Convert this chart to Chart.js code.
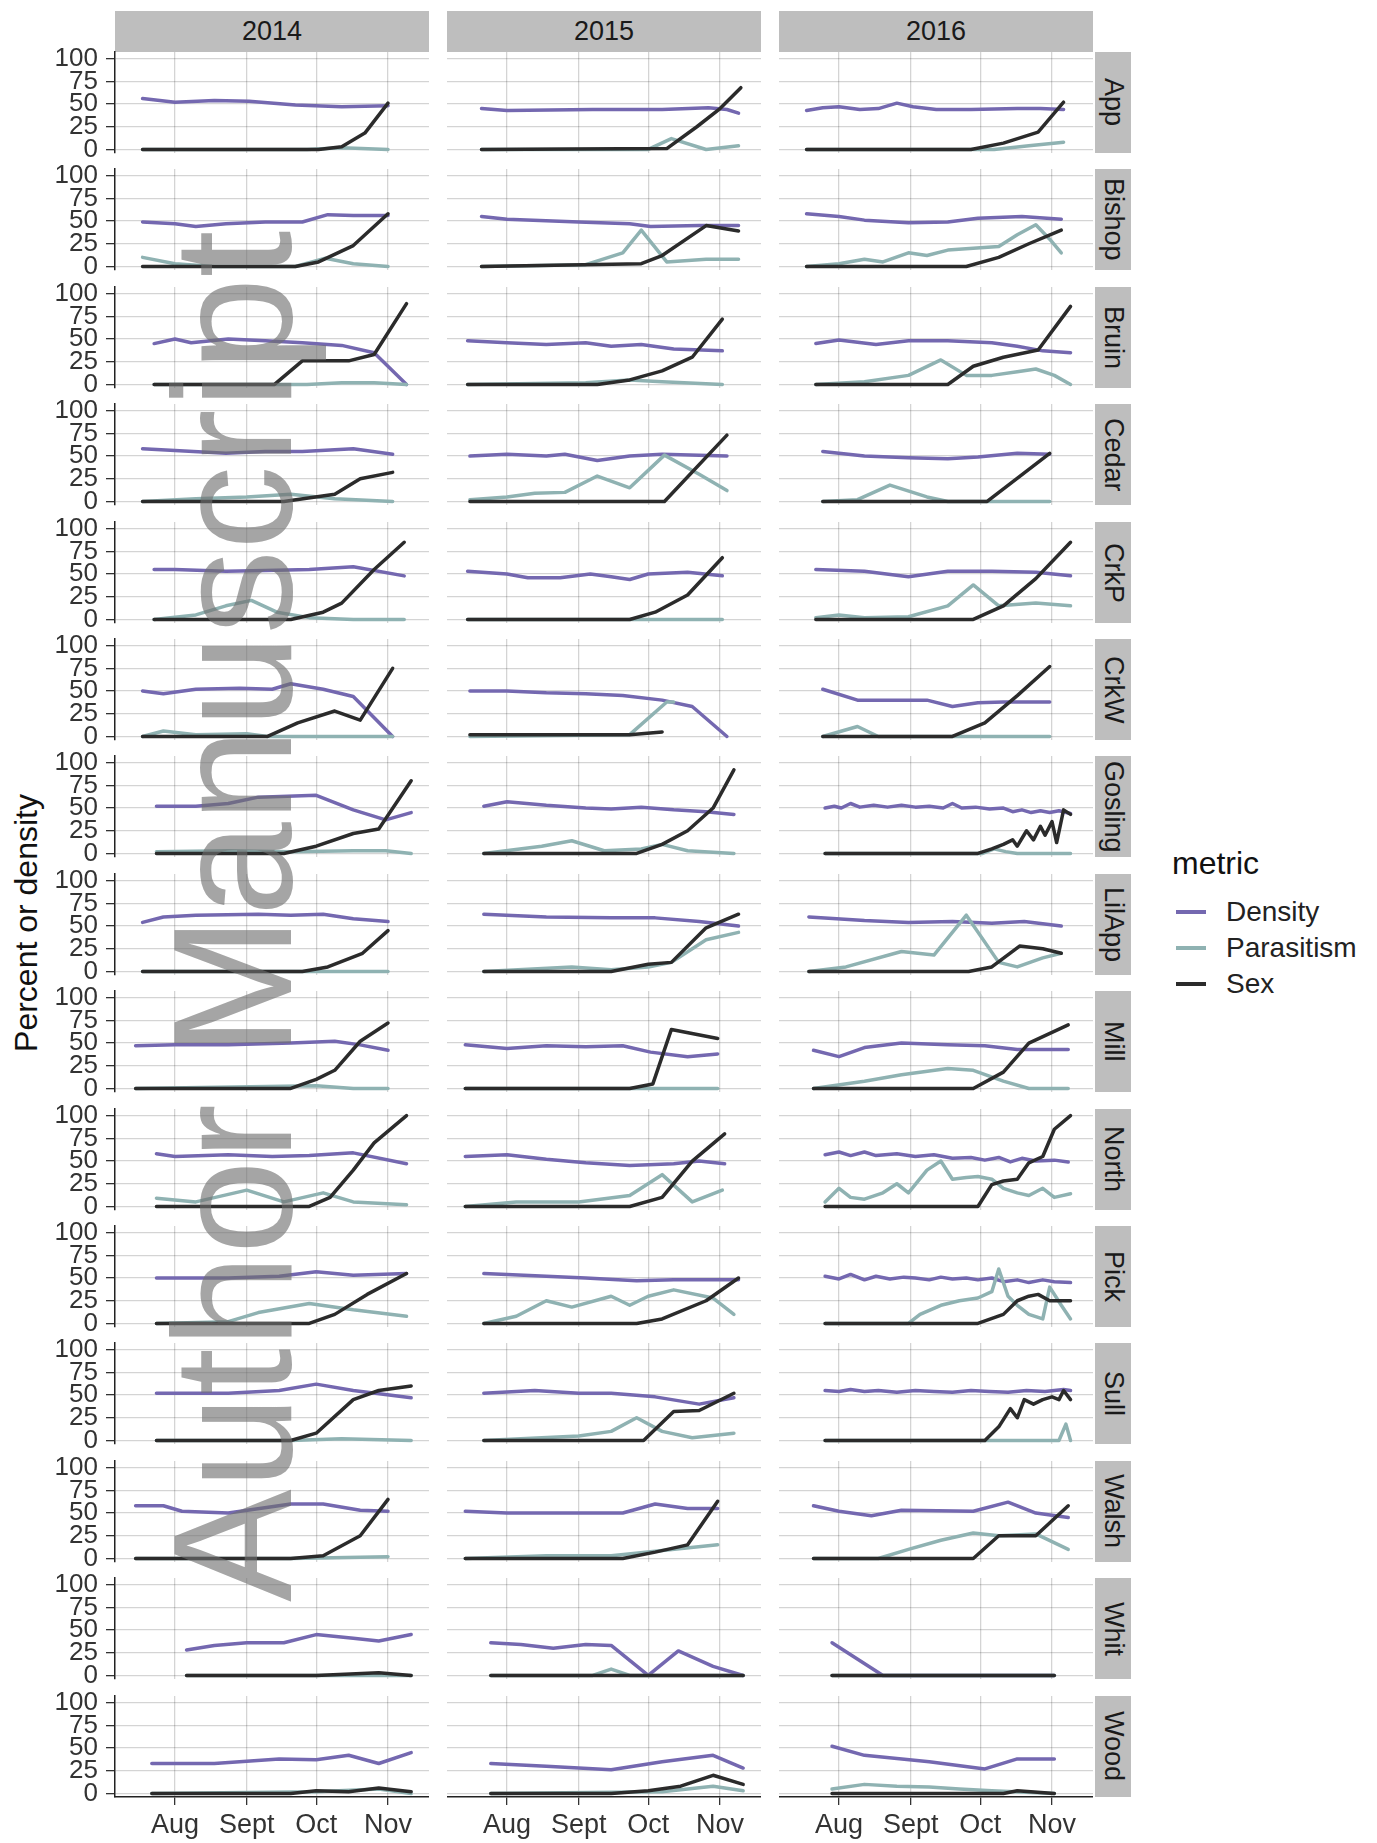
<!DOCTYPE html>
<html>
<head>
<meta charset="utf-8">
<script src="https://cdn.jsdelivr.net/npm/chart.js@4.4.1/dist/chart.umd.min.js"></script>
<style>
  body { margin: 0; background: #fff; font-family: "Liberation Sans", Arial, sans-serif; }
  #page { position: relative; width: 1377px; height: 1843px; overflow: hidden; background: #fff; }
  #page canvas { position: absolute; }
  .strip-top, .strip-right {
    position: absolute; background: #bebebe; color: #1a1a1a; font-size: 27px;
    display: flex; align-items: center; justify-content: center; white-space: nowrap;
  }
  .strip-right { writing-mode: vertical-rl; }
  .ytitle {
    position: absolute; left: 26px; top: 923px; font-size: 32px; color: #111; white-space: nowrap;
    transform: translate(-50%, -50%) rotate(-90deg);
  }
  .legend-title { position: absolute; left: 1172px; top: 845px; font-size: 32px; color: #111; }
  .legend-item { position: absolute; left: 1176px; font-size: 28px; color: #222; display: flex; align-items: center; }
  .legend-item span.key { display: inline-block; width: 30px; height: 3.5px; margin-right: 20px; }
  .watermark {
    position: absolute; left: 148px; top: 1602px; font-size: 169px; line-height: 1; white-space: nowrap;
    color: rgba(110, 110, 110, 0.62); transform-origin: 0 0; transform: rotate(-90deg); pointer-events: none;
  }
</style>
</head>
<body>
<div id="page">
  <div class="ytitle">Percent or density</div>
  <div class="legend-title">metric</div>
</div>
<script>
const years = ["2014", "2015", "2016"];
const sites = ["App", "Bishop", "Bruin", "Cedar", "CrkP", "CrkW", "Gosling", "LilApp",
               "Mill", "North", "Pick", "Sull", "Walsh", "Whit", "Wood"];
const metrics = ["Density", "Parasitism", "Sex"];
const metricColors = ["#7468b0", "#8fb2b2", "#2b2b2b"];
const yTicks = [0, 25, 50, 75, 100];
// day of year for the first of each month
const monthDays = [213, 244, 274, 305];
const monthLabels = ["Aug", "Sept", "Oct", "Nov"];

// one entry per year (2014, 2015, 2016), each holding Density, Parasitism, Sex
// as [day of year, value] pairs
const App = [
  [[[199,56],[213,52],[230,54],[245,53],[265,49],[285,47],[305,48]],
   [[199,0],[270,0],[285,2],[305,0]],
   [[199,0],[275,0],[285,3],[295,18],[305,51]]],
  [[[202,45],[213,43],[250,44],[280,44],[300,46],[308,44],[313,40]],
   [[202,0],[274,0],[284,12],[299,0],[313,4]],
   [[202,0],[282,1],[295,25],[305,45],[314,68]]],
  [[[199,43],[206,46],[213,47],[222,44],[230,45],[238,51],[245,47],[255,44],[270,44],[290,45],[300,45],[310,44]],
   [[199,0],[280,0],[295,4],[310,8]],
   [[199,0],[270,0],[284,7],[299,19],[310,52]]],
];
const Bishop = [
  [[[199,49],[213,47],[222,44],[235,47],[252,49],[268,49],[279,57],[290,56],[305,56]],
   [[199,10],[213,3],[230,0],[265,0],[278,9],[290,3],[305,0]],
   [[199,0],[265,0],[275,5],[290,23],[305,58]]],
  [[[202,55],[213,52],[244,49],[266,47],[275,44],[296,45],[313,45]],
   [[202,0],[247,2],[263,15],[271,40],[282,5],[299,8],[313,8]],
   [[202,0],[271,3],[280,12],[299,45],[313,39]]],
  [[[199,58],[213,55],[224,51],[243,48],[260,49],[273,53],[292,55],[309,52]],
   [[199,0],[213,3],[224,8],[232,5],[243,15],[251,12],[260,18],[271,20],[282,22],[290,35],[298,46],[304,30],[309,15]],
   [[199,0],[268,0],[282,10],[295,25],[309,40]]],
];
const Bruin = [
  [[[204,45],[213,50],[220,46],[236,50],[252,48],[268,46],[285,43],[299,35],[313,0]],
   [[204,0],[270,0],[285,2],[299,2],[313,0]],
   [[204,0],[256,0],[268,26],[288,26],[299,33],[313,89]]],
  [[[196,48],[213,46],[230,44],[247,46],[258,42],[271,44],[285,39],[306,37]],
   [[196,0],[247,2],[266,5],[280,3],[306,0]],
   [[196,0],[252,0],[266,5],[280,15],[293,30],[306,72]]],
  [[[203,45],[213,49],[229,44],[243,48],[260,48],[279,46],[290,42],[301,37],[313,35]],
   [[203,0],[224,3],[243,10],[257,27],[268,10],[279,10],[290,14],[298,17],[306,10],[313,0]],
   [[203,0],[260,0],[271,20],[284,30],[299,38],[313,86]]],
];
const Cedar = [
  [[[199,58],[213,56],[235,53],[252,55],[268,55],[290,58],[307,52]],
   [[199,0],[222,3],[244,5],[263,8],[282,3],[307,0]],
   [[199,0],[260,0],[282,8],[293,25],[307,32]]],
  [[[197,50],[213,52],[230,50],[238,52],[252,45],[266,50],[280,52],[308,50]],
   [[197,2],[213,5],[225,9],[238,10],[252,28],[266,15],[281,51],[296,30],[308,12]],
   [[197,0],[281,0],[308,73]]],
  [[[206,55],[224,50],[243,48],[260,47],[273,49],[290,53],[304,52]],
   [[206,0],[221,2],[235,18],[251,5],[260,0],[304,0]],
   [[206,0],[277,0],[304,53]]],
];
const CrkP = [
  [[[204,55],[213,55],[235,53],[252,54],[271,55],[290,58],[312,48]],
   [[204,0],[222,5],[235,15],[246,21],[257,8],[271,2],[290,0],[312,0]],
   [[204,0],[263,0],[277,8],[285,18],[299,55],[312,85]]],
  [[[196,53],[213,50],[222,46],[236,46],[249,50],[258,47],[266,44],[274,50],[291,52],[306,48]],
   [[196,0],[306,0]],
   [[196,0],[266,0],[277,8],[291,27],[306,68]]],
  [[[203,55],[224,53],[243,47],[260,53],[279,53],[298,52],[313,48]],
   [[203,2],[213,5],[224,2],[243,3],[260,15],[271,38],[282,15],[298,18],[313,15]],
   [[203,0],[271,0],[284,15],[298,45],[313,85]]],
];
const CrkW = [
  [[[199,50],[208,47],[222,52],[241,53],[255,52],[263,58],[277,52],[290,44],[307,0]],
   [[199,0],[208,6],[222,2],[244,3],[253,0],[307,0]],
   [[199,0],[253,0],[266,15],[282,28],[293,18],[307,75]]],
  [[[197,50],[213,50],[230,48],[247,47],[263,45],[280,40],[293,33],[308,0]],
   [[197,0],[266,2],[282,38],[285,38]],
   [[197,2],[266,2],[280,5]]],
  [[[206,52],[221,40],[243,40],[251,40],[262,33],[273,37],[284,38],[304,38]],
   [[206,0],[221,11],[230,0],[304,0]],
   [[206,0],[262,0],[276,15],[290,45],[304,77]]],
];
const Gosling = [
  [[[205,52],[222,52],[236,55],[249,62],[274,64],[290,48],[304,37],[315,45]],
   [[205,2],[236,3],[263,2],[290,3],[304,3],[315,0]],
   [[205,0],[260,0],[274,8],[290,22],[301,27],[315,80]]],
  [[[203,52],[213,57],[230,53],[247,50],[258,49],[271,51],[285,48],[299,46],[311,43]],
   [[203,0],[228,8],[241,14],[255,3],[271,5],[280,10],[291,3],[311,0]],
   [[203,0],[269,0],[280,10],[291,25],[302,50],[311,92]]],
  [[[207,50],[211,52],[214,50],[218,55],[222,51],[228,53],[234,51],[240,53],[246,51],[252,52],[258,50],[262,55],[266,50],[272,51],[278,49],[284,50],[288,46],[292,48],[296,45],[300,47],[304,45],[308,47],[313,44]],
   [[207,0],[275,0],[280,5],[285,2],[290,0],[313,0]],
   [[207,0],[273,0],[279,5],[284,10],[288,15],[290,8],[294,25],[297,15],[300,30],[302,20],[305,35],[307,12],[310,48],[313,43]]],
];
const LilApp = [
  [[[199,54],[208,60],[222,62],[249,63],[263,62],[277,63],[290,58],[305,55]],
   [[199,0],[305,0]],
   [[199,0],[268,0],[279,5],[294,20],[305,45]]],
  [[[203,63],[230,60],[258,59],[277,59],[296,55],[313,50]],
   [[203,0],[241,5],[258,2],[274,5],[284,10],[299,35],[313,43]],
   [[203,0],[258,0],[274,8],[284,10],[299,48],[313,63]]],
  [[[200,60],[224,56],[243,54],[262,55],[279,53],[293,55],[309,50]],
   [[200,0],[216,5],[240,22],[254,18],[268,62],[282,10],[290,5],[301,15],[309,20]],
   [[200,0],[269,0],[279,5],[291,28],[301,25],[309,20]]],
];
const Mill = [
  [[[196,47],[213,48],[236,48],[263,50],[282,52],[293,48],[305,42]],
   [[196,0],[274,3],[290,0],[305,0]],
   [[196,0],[263,0],[274,10],[282,20],[293,52],[305,72]]],
  [[[195,48],[213,44],[230,47],[247,46],[263,47],[275,40],[291,35],[304,38]],
   [[195,0],[304,0]],
   [[195,0],[266,0],[276,5],[284,65],[304,55]]],
  [[[202,42],[213,35],[224,45],[240,50],[260,48],[276,47],[290,43],[312,43]],
   [[202,0],[224,8],[240,15],[260,22],[271,20],[284,8],[295,0],[312,0]],
   [[202,0],[271,0],[284,18],[295,50],[312,70]]],
];
const North = [
  [[[205,58],[213,55],[236,57],[255,55],[271,56],[290,59],[313,47]],
   [[205,9],[222,5],[244,18],[260,5],[277,15],[290,5],[313,2]],
   [[205,0],[271,0],[280,10],[290,40],[299,70],[313,100]]],
  [[[195,55],[213,57],[230,52],[247,48],[266,45],[285,47],[296,50],[307,47]],
   [[195,0],[217,5],[244,5],[266,12],[280,35],[293,5],[306,18]],
   [[195,0],[266,0],[280,10],[293,50],[307,80]]],
  [[[207,57],[213,60],[218,56],[224,60],[229,56],[238,58],[246,55],[254,57],[262,53],[270,54],[276,51],[282,54],[287,49],[292,53],[298,50],[306,51],[312,49]],
   [[207,5],[213,20],[218,10],[224,8],[232,15],[238,25],[243,15],[251,40],[257,50],[262,30],[268,32],[273,33],[279,30],[284,20],[290,15],[295,12],[301,20],[306,10],[313,14]],
   [[207,0],[273,0],[279,24],[284,28],[290,30],[295,48],[301,55],[306,85],[313,100]]],
];
const Pick = [
  [[[205,50],[236,50],[258,52],[274,57],[290,53],[313,55]],
   [[205,0],[236,2],[249,12],[271,22],[290,15],[313,8]],
   [[205,0],[271,0],[282,10],[296,32],[313,55]]],
  [[[203,55],[213,54],[230,52],[247,50],[269,47],[285,48],[313,48]],
   [[203,0],[217,8],[230,25],[241,18],[258,30],[266,20],[274,30],[285,37],[302,28],[311,10]],
   [[203,0],[269,0],[280,5],[299,25],[313,50]]],
  [[[207,52],[213,49],[218,54],[224,48],[229,52],[235,49],[241,51],[246,50],[252,48],[257,51],[262,49],[268,50],[273,48],[279,50],[284,46],[290,48],[295,45],[301,48],[306,46],[313,45]],
   [[207,0],[243,0],[248,10],[257,20],[265,25],[273,28],[279,35],[282,60],[286,30],[290,20],[295,10],[301,5],[304,40],[309,20],[313,5]],
   [[207,0],[273,0],[284,10],[290,25],[295,30],[299,32],[304,25],[313,25]]],
];
const Sull = [
  [[[205,52],[236,52],[258,55],[274,62],[290,55],[315,47]],
   [[205,0],[263,0],[285,2],[315,0]],
   [[205,0],[263,0],[274,8],[290,45],[301,55],[315,60]]],
  [[[203,52],[225,55],[244,52],[258,52],[277,48],[296,40],[311,47]],
   [[203,0],[244,5],[258,10],[269,25],[280,10],[293,3],[311,8]],
   [[203,0],[272,0],[285,32],[296,33],[311,52]]],
  [[[207,55],[213,54],[218,56],[224,54],[230,55],[238,53],[246,55],[254,54],[262,53],[270,55],[278,54],[286,53],[294,55],[302,54],[310,56],[313,55]],
   [[207,0],[300,0],[308,0],[311,18],[313,0]],
   [[207,0],[276,0],[282,15],[287,35],[290,25],[293,45],[297,40],[301,45],[305,48],[308,45],[310,55],[313,45]]],
];
const Walsh = [
  [[[196,58],[208,58],[216,52],[236,50],[263,60],[277,60],[293,53],[305,52]],
   [[196,0],[263,0],[305,2]],
   [[196,0],[263,0],[277,3],[293,25],[305,65]]],
  [[[195,52],[213,50],[230,50],[263,50],[277,60],[291,55],[304,55]],
   [[195,0],[230,3],[258,3],[277,8],[304,15]],
   [[195,0],[263,0],[277,7],[291,15],[304,63]]],
  [[[202,58],[213,52],[227,47],[240,53],[271,52],[286,62],[298,50],[312,45]],
   [[202,0],[230,0],[243,10],[257,20],[271,28],[282,25],[298,27],[312,10]],
   [[202,0],[271,0],[282,25],[293,25],[298,25],[312,58]]],
];
const Whit = [
  [[[218,28],[230,33],[244,36],[260,36],[274,45],[290,41],[301,38],[315,45]],
   [[218,0],[315,0]],
   [[218,0],[274,0],[301,3],[315,0]]],
  [[[206,36],[219,34],[233,30],[247,34],[258,33],[274,0],[287,27],[302,10],[315,0]],
   [[206,0],[250,0],[258,7],[266,0],[315,0]],
   [[206,0],[315,0]]],
  [[[210,36],[232,0],[306,0]],
   [[210,0],[306,0]],
   [[210,0],[306,0]]],
];
const Wood = [
  [[[203,33],[230,33],[258,38],[274,37],[288,42],[301,33],[315,45]],
   [[203,0],[274,2],[301,5],[315,0]],
   [[203,0],[263,0],[274,3],[288,2],[301,6],[315,2]]],
  [[[206,33],[230,30],[258,26],[280,35],[302,42],[315,28]],
   [[206,0],[280,2],[302,8],[315,3]],
   [[206,0],[258,0],[274,3],[288,8],[302,20],[315,10]]],
  [[[210,52],[224,42],[252,35],[276,27],[290,38],[306,38]],
   [[210,5],[224,10],[238,8],[252,7],[265,5],[279,3],[306,0]],
   [[210,0],[284,0],[290,3],[306,0]]],
];
const siteData = [App, Bishop, Bruin, Cedar, CrkP, CrkW, Gosling, LilApp, Mill, North, Pick, Sull, Walsh, Whit, Wood];

// layout of the facet grid (pixels)
const PANEL_X = 115, COL_STEP = 332, PANEL_W = 314;
const PANEL_Y = 52, ROW_STEP = 117.4, PANEL_H = 101;
const X_MIN = 187.1, X_MAX = 322.7;
const Y_MIN = -3.9, Y_MAX = 107.3;
const PAD_TOP = 12, PAD_BOTTOM = 12, LEFT_AXIS = 100, BOTTOM_AXIS = 48;

Chart.defaults.font.family = '"Liberation Sans", Arial, sans-serif';
const page = document.getElementById("page");

function addDiv(cls, text, css) {
    const el = document.createElement("div");
    el.className = cls;
    el.textContent = text;
    Object.assign(el.style, css);
    page.appendChild(el);
    return el;
}

years.forEach((year, c) => {
    addDiv("strip-top", year, {
        left: PANEL_X + c * COL_STEP + "px", top: "11px",
        width: PANEL_W + "px", height: "41px",
    });
});

sites.forEach((site, r) => {
    addDiv("strip-right", site, {
        left: PANEL_X + 2 * COL_STEP + PANEL_W + 2 + "px",
        top: Math.round(PANEL_Y + r * ROW_STEP) + "px",
        width: "36px", height: PANEL_H + "px",
    });
});

function makePanel(r, c) {
    const isLeft = c === 0;
    const isBottom = r === sites.length - 1;
    const extraLeft = isLeft ? LEFT_AXIS : 0;
    const extraBottom = isBottom ? BOTTOM_AXIS : 0;
    // room below the panel so the "0" tick label is not cut off
    const padBottom = isLeft && !isBottom ? PAD_BOTTOM : 0;

    const canvas = document.createElement("canvas");
    canvas.width = PANEL_W + extraLeft;
    canvas.height = PANEL_H + PAD_TOP + extraBottom + padBottom;
    canvas.style.left = PANEL_X + c * COL_STEP - extraLeft + "px";
    canvas.style.top = Math.round(PANEL_Y + r * ROW_STEP) - PAD_TOP + "px";
    page.appendChild(canvas);

    const series = siteData[r][c];
    new Chart(canvas, {
        type: "line",
        data: {
            datasets: metrics.map((m, i) => ({
                label: m,
                data: series[i],
                borderColor: metricColors[i],
                order: 2 - i,
            })),
        },
        options: {
            responsive: false,
            animation: false,
            layout: { padding: { top: PAD_TOP, left: 0, right: 0, bottom: padBottom } },
            plugins: { legend: { display: false }, tooltip: { enabled: false } },
            elements: {
                point: { radius: 0 },
                line: { borderWidth: 3.5, tension: 0, borderCapStyle: "round", borderJoinStyle: "round" },
            },
            scales: {
                x: {
                    type: "linear",
                    min: X_MIN,
                    max: X_MAX,
                    afterBuildTicks: (s) => { s.ticks = monthDays.map((v) => ({ value: v })); },
                    afterFit: (s) => {
                        s.height = extraBottom;
                        s.paddingLeft = 0;
                        s.paddingRight = 0;
                    },
                    ticks: {
                        display: isBottom,
                        autoSkip: false,
                        maxRotation: 0,
                        padding: 4,
                        color: "#333",
                        font: { size: 27 },
                        callback: (v, i) => monthLabels[i],
                    },
                    grid: {
                        color: "rgba(0,0,0,0.17)",
                        lineWidth: 1.3,
                        drawTicks: isBottom,
                        tickLength: 8,
                        tickColor: "#333",
                    },
                    border: { display: isBottom, color: "#222", width: 1.5 },
                },
                y: {
                    min: Y_MIN,
                    max: Y_MAX,
                    afterBuildTicks: (s) => { s.ticks = yTicks.map((v) => ({ value: v })); },
                    afterFit: (s) => {
                        s.width = extraLeft;
                        s.paddingTop = 0;
                        s.paddingBottom = 0;
                    },
                    ticks: {
                        display: isLeft,
                        autoSkip: false,
                        padding: 8,
                        color: "#333",
                        font: { size: 26 },
                    },
                    grid: {
                        color: "rgba(0,0,0,0.17)",
                        lineWidth: 1.3,
                        drawTicks: isLeft,
                        tickLength: 9,
                        tickColor: "#333",
                    },
                    border: { display: isLeft, color: "#222", width: 1.5 },
                },
            },
        },
    });
}

sites.forEach((site, r) => {
    years.forEach((year, c) => makePanel(r, c));
});

// legend
const legendTops = [896, 932, 968];
metrics.forEach((m, i) => {
    const item = addDiv("legend-item", "", { top: legendTops[i] + "px" });
    const key = document.createElement("span");
    key.className = "key";
    key.style.background = metricColors[i];
    item.appendChild(key);
    item.appendChild(document.createTextNode(m));
});

addDiv("watermark", "Author Manuscript", {});
</script>
</body>
</html>
